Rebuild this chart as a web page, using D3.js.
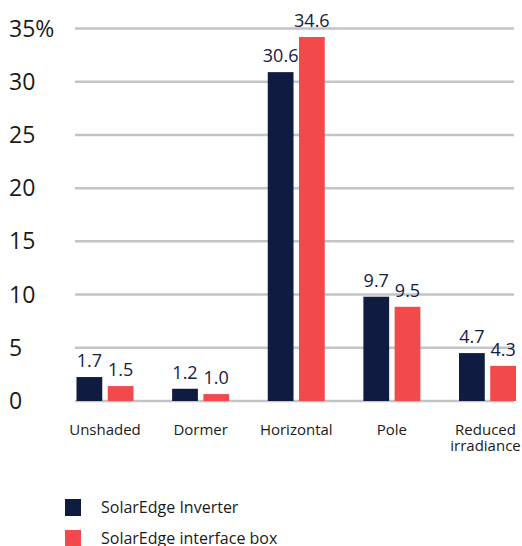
<!DOCTYPE html>
<html>
  <head>
    <style>
      html, body {
        padding: 0;
        margin: 0;
        overflow: hidden;
        background: #ffffff;
      }
      svg {
        font-family: "Open Sans", "Noto Sans", sans-serif;
      }
      .grid line {
        stroke: #c3c3c8;
        stroke-width: 2.5;
      }
      .tick-label {
        font-size: 23px;
        fill: #1a1a1a;
      }
      .value-label {
        font-size: 18px;
        fill: #14203f;
      }
      .cat-label {
        font-size: 15px;
        fill: #1a1a1a;
      }
      .legend text {
        font-size: 16px;
        fill: #1a1a1a;
      }
    </style>
  </head>
  <body>
    <div id="chart"></div>
    <script src="https://cdnjs.cloudflare.com/ajax/libs/d3/7.8.5/d3.min.js"></script>
    <script>
      // categories + series (bar heights, labels as printed)
      const categories = ['Unshaded', 'Dormer', 'Horizontal', 'Pole', 'Reduced irradiance']
      const inverterValues = [2.25, 1.15, 30.9, 9.8, 4.5]
      const boxValues = [1.4, 0.65, 34.2, 8.85, 3.3]
      const inverterLabels = ['1.7', '1.2', '30.6', '9.7', '4.7']
      const boxLabels = ['1.5', '1.0', '34.6', '9.5', '4.3']
      const yTicks = [0, 5, 10, 15, 20, 25, 30, 35]
      const seriesNames = ['SolarEdge Inverter', 'SolarEdge interface box']

      let width = 522
      let height = 546

      let navy = '#0f1b40'
      let red = '#f24a4a'

      let svg = d3.select('#chart')
        .append('svg')
        .attr('width', width)
        .attr('height', height)

      let y = d3.scaleLinear()
        .domain([0, 35])
        .range([401, 28.5])

      let x = d3.scaleBand()
        .domain(categories)
        .range([76.5, 516])
        .paddingInner(0.404)
        .paddingOuter(0)

      let x1 = d3.scaleBand()
        .domain(['inv', 'box'])
        .range([0, x.bandwidth()])
        .paddingInner(0.175)

      // grid lines
      svg.append('g')
        .attr('class', 'grid')
        .selectAll('line')
        .data(yTicks)
        .enter().append('line')
        .attr('x1', 75)
        .attr('x2', 514)
        .attr('y1', d => y(d))
        .attr('y2', d => y(d))

      // y tick labels
      svg.append('g')
        .selectAll('text')
        .data(yTicks)
        .enter().append('text')
        .attr('class', 'tick-label')
        .attr('x', 9)
        .attr('y', d => y(d) + 8)
        .text(d => d === 35 ? d + '%' : d)

      let rows = categories.map((c, i) => ({
        cat: c,
        bars: [
          { key: 'inv', value: inverterValues[i], label: inverterLabels[i], color: navy },
          { key: 'box', value: boxValues[i], label: boxLabels[i], color: red }
        ]
      }))

      let groups = svg.append('g')
        .selectAll('g')
        .data(rows)
        .enter().append('g')
        .attr('transform', d => 'translate(' + x(d.cat) + ',0)')

      groups.selectAll('rect')
        .data(d => d.bars)
        .enter().append('rect')
        .attr('x', d => x1(d.key))
        .attr('width', x1.bandwidth())
        .attr('y', d => y(d.value))
        .attr('height', d => y(0) - y(d.value))
        .attr('fill', d => d.color)

      groups.selectAll('.value-label')
        .data(d => d.bars)
        .enter().append('text')
        .attr('class', 'value-label')
        .attr('text-anchor', 'middle')
        .attr('x', d => x1(d.key) + x1.bandwidth() / 2)
        .attr('y', d => y(d.value) - 10)
        .text(d => d.label)

      // category labels (wrap "Reduced irradiance")
      groups.append('text')
        .attr('class', 'cat-label')
        .attr('text-anchor', 'middle')
        .attr('x', x.bandwidth() / 2)
        .attr('y', 435)
        .each(function(d) {
          let words = d.cat === 'Reduced irradiance' ? ['Reduced', 'irradiance'] : [d.cat]
          let t = d3.select(this)
          words.forEach((w, i) => {
            t.append('tspan')
              .attr('x', x.bandwidth() / 2 - (words.length > 1 ? 2 : 0))
              .attr('dy', i === 0 ? 0 : 15.5)
              .text(w)
          })
        })

      // legend
      let legend = svg.append('g')
        .attr('class', 'legend')
        .selectAll('g')
        .data(seriesNames)
        .enter().append('g')
        .attr('transform', (d, i) => 'translate(65,' + (499 + i * 31) + ')')

      legend.append('rect')
        .attr('width', 16)
        .attr('height', 17)
        .attr('fill', (d, i) => i === 0 ? navy : red)

      legend.append('text')
        .attr('x', 36)
        .attr('y', 14)
        .text(d => d)
    </script>
  </body>
</html>
